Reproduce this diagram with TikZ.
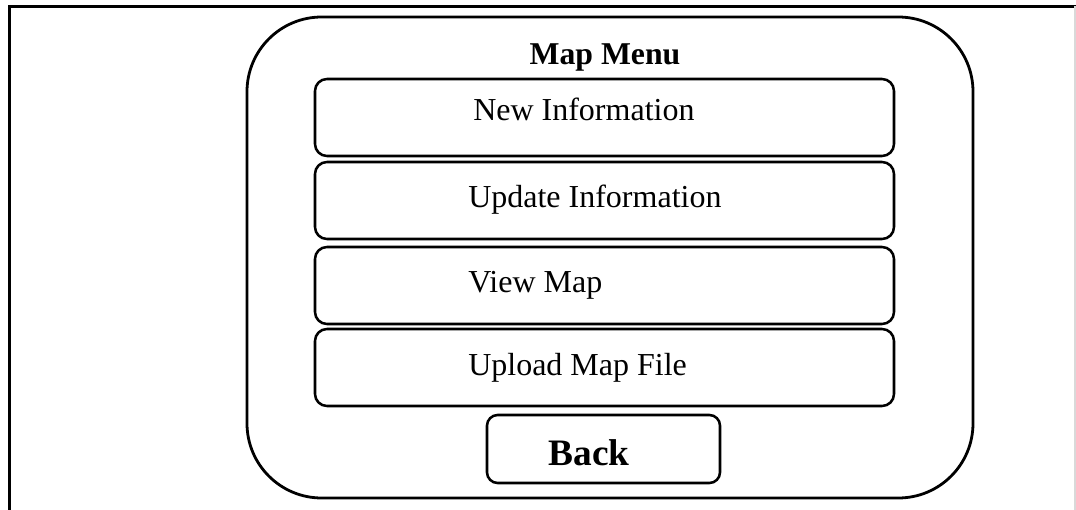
\documentclass[tikz,border=0pt]{standalone}
\usepackage{fontspec}
\setmainfont{Liberation Serif}
\begin{document}
\begin{tikzpicture}[x=0.75pt,y=-0.75pt,
  menubox/.style={draw=black,line width=1.9pt,rounded corners=9pt,inner sep=0pt},
  itemtext/.style={anchor=base west,inner sep=0pt,font=\fontsize{24}{26}\selectfont},
  boldtext/.style={anchor=base,inner sep=0pt,font=\bfseries\fontsize{23.8}{26}\selectfont}]
\useasboundingbox (0,0) rectangle (1076,510);
% outer frame
\draw[line width=1.9pt] (9.5,510) -- (9.5,6.5) -- (1076,6.5);
\draw[gray!30,line width=0.8pt] (1075,6.5) -- (1075,510);
% panel
\draw[line width=2.1pt,rounded corners=56pt] (247,17) rectangle (973,498);
\node[boldtext] (title) at (605,65) {Map Menu};
% menu boxes
\draw[menubox] (315,79) rectangle (894,156);
\draw[menubox] (315,162) rectangle (894,239);
\draw[menubox] (315,247) rectangle (894,324);
\draw[menubox] (315,329) rectangle (894,406);
\node[itemtext] (new) at (473,121) {New Information};
\node[itemtext] (upd) at (468,207) {Update Information};
\node[itemtext] (view) at (468,292) {View Map};
\node[itemtext] (upl) at (468,375) {Upload Map File};
% back
\draw[line width=1.9pt,rounded corners=8pt] (487,415) rectangle (720,483);
\node[boldtext,font=\bfseries\fontsize{28}{30}\selectfont] (back) at (589,465) {Back};
\end{tikzpicture}
\end{document}
